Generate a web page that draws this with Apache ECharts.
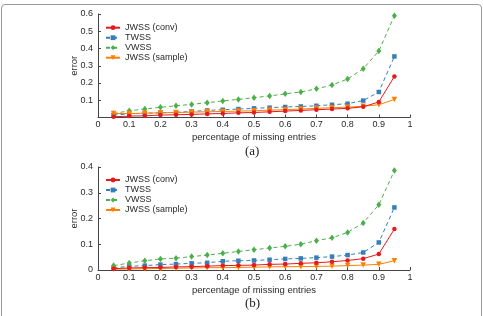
<!DOCTYPE html>
<html>
<head>
<meta charset="utf-8">
<script src="https://cdn.jsdelivr.net/npm/echarts@6/dist/echarts.min.js"></script>
<style>
  html, body { margin: 0; padding: 0; background: #fff; }
  #frame { position: absolute; left: 1px; top: 4px; width: 479px; height: 320px; border: 1px solid #9a9a9a; border-radius: 4px; }
  #chart { position: absolute; left: 0; top: 0; width: 483px; height: 316px; }
</style>
</head>
<body>
<div id="frame"></div>
<div id="chart"></div>
<script>
// missing-entry ratio on the x axis
const missing = [0.05, 0.1, 0.15, 0.2, 0.25, 0.3, 0.35, 0.4, 0.45, 0.5, 0.55, 0.6, 0.65, 0.7, 0.75, 0.8, 0.85, 0.9, 0.95];
const seriesNames = ['JWSS (conv)', 'TWSS', 'VWSS', 'JWSS (sample)'];

// panel (a)
const convA   = [0.004, 0.008, 0.010, 0.014, 0.016, 0.018, 0.021, 0.023, 0.027, 0.029, 0.033, 0.037, 0.041, 0.045, 0.049, 0.053, 0.062, 0.090, 0.238];
const twssA   = [0.014, 0.021, 0.025, 0.027, 0.030, 0.035, 0.041, 0.045, 0.049, 0.053, 0.057, 0.061, 0.064, 0.068, 0.074, 0.080, 0.098, 0.148, 0.354];
const vwssA   = [0.023, 0.039, 0.049, 0.059, 0.068, 0.076, 0.086, 0.096, 0.105, 0.115, 0.125, 0.137, 0.148, 0.166, 0.188, 0.223, 0.283, 0.385, 0.590];
const sampleA = [0.023, 0.023, 0.025, 0.027, 0.029, 0.031, 0.033, 0.035, 0.037, 0.039, 0.043, 0.045, 0.049, 0.053, 0.057, 0.060, 0.065, 0.074, 0.105];

// panel (b)
const convB   = [0.005, 0.008, 0.009, 0.010, 0.012, 0.013, 0.015, 0.017, 0.018, 0.019, 0.022, 0.023, 0.026, 0.028, 0.032, 0.037, 0.044, 0.062, 0.159];
const twssB   = [0.009, 0.014, 0.017, 0.021, 0.023, 0.026, 0.028, 0.034, 0.036, 0.037, 0.040, 0.043, 0.045, 0.048, 0.052, 0.058, 0.068, 0.107, 0.243];
const vwssB   = [0.017, 0.027, 0.036, 0.043, 0.046, 0.052, 0.058, 0.065, 0.072, 0.079, 0.085, 0.092, 0.100, 0.114, 0.125, 0.146, 0.183, 0.253, 0.386];
const sampleB = [0.003, 0.004, 0.005, 0.006, 0.007, 0.008, 0.009, 0.009, 0.010, 0.011, 0.012, 0.013, 0.013, 0.014, 0.015, 0.017, 0.019, 0.022, 0.036];

const colors = ['#e41a1c', '#377eb8', '#4daf4a', '#ff7f00'];
const FONT = 'Liberation Sans, Arial, sans-serif';
const axisColor = '#444';
const textColor = '#2a2a2a';

const styles = [
  { symbol: 'circle', symbolSize: 4.5, type: 'solid', rotate: 0 },
  { symbol: 'rect', symbolSize: 4.5, type: [4, 3], rotate: 0 },
  { symbol: 'diamond', symbolSize: [5, 6.5], type: [4, 3], rotate: 0 },
  { symbol: 'triangle', symbolSize: 5.5, type: 'solid', rotate: 180 },
];

function mk(name, i, vals, idx) {
  const s = styles[i];
  return {
    name, type: 'line', xAxisIndex: idx, yAxisIndex: idx,
    data: missing.map((x, k) => [x, vals[k]]),
    symbol: s.symbol, symbolSize: s.symbolSize, symbolRotate: s.rotate,
    showAllSymbol: true,
    lineStyle: { color: colors[i], width: 1, type: s.type },
    itemStyle: { color: colors[i] },
    z: 2 + (i === 0 ? 3 : i === 3 ? 2 : 1),
  };
}

function xAxis(idx) {
  return {
    type: 'value', gridIndex: idx, min: 0, max: 1, interval: 0.1,
    name: 'percentage of missing entries', nameLocation: 'middle', nameGap: 15,
    nameMoveOverlap: false,
    nameTextStyle: { fontFamily: FONT, fontSize: 9.5, color: textColor },
    axisLine: { lineStyle: { color: axisColor, width: 1 } },
    axisTick: { inside: true, length: 3, lineStyle: { color: axisColor } },
    axisLabel: { fontFamily: FONT, fontSize: 9, color: textColor, margin: 3 },
    splitLine: { show: false },
  };
}

function yAxis(idx, max, hideZero) {
  return {
    type: 'value', gridIndex: idx, min: 0, max, interval: 0.1,
    name: 'error', nameLocation: 'middle', nameGap: 19, nameRotate: 90,
    nameMoveOverlap: false,
    nameTextStyle: { fontFamily: FONT, fontSize: 9.5, color: textColor },
    axisLine: { show: true, lineStyle: { color: axisColor, width: 1 } },
    axisTick: { show: true, inside: true, length: 3, lineStyle: { color: axisColor } },
    axisLabel: {
      fontFamily: FONT, fontSize: 9, color: textColor, margin: 5,
      formatter: v => (hideZero && v === 0) ? '' : String(+v.toFixed(1)),
    },
    splitLine: { show: false },
  };
}

function legend(top) {
  return {
    top, left: 105, orient: 'vertical', itemGap: 0,
    itemWidth: 14, itemHeight: 6, padding: 0,
    textStyle: { fontFamily: FONT, fontSize: 9, color: textColor, lineHeight: 10 },
    data: seriesNames,
  };
}

const chart = echarts.init(document.getElementById('chart'), null, { renderer: 'canvas' });
chart.setOption({
  animation: false,
  grid: [
    { left: 98, right: 73, top: 14, height: 103.5 },
    { left: 98, right: 73, top: 167, height: 103 },
  ],
  xAxis: [xAxis(0), xAxis(1)],
  yAxis: [yAxis(0, 0.6, true), yAxis(1, 0.4, false)],
  legend: [legend(22.7), legend(175)],
  series: [
    mk(seriesNames[0], 0, convA, 0), mk(seriesNames[1], 1, twssA, 0),
    mk(seriesNames[2], 2, vwssA, 0), mk(seriesNames[3], 3, sampleA, 0),
    mk(seriesNames[0], 0, convB, 1), mk(seriesNames[1], 1, twssB, 1),
    mk(seriesNames[2], 2, vwssB, 1), mk(seriesNames[3], 3, sampleB, 1),
  ],
  graphic: [
    { type: 'text', left: 245, top: 145, style: { text: '(a)', font: '13px "Liberation Serif", "DejaVu Serif", serif', fill: '#222' } },
    { type: 'text', left: 245, top: 297, style: { text: '(b)', font: '13px "Liberation Serif", "DejaVu Serif", serif', fill: '#222' } },
  ],
});
</script>
</body>
</html>
